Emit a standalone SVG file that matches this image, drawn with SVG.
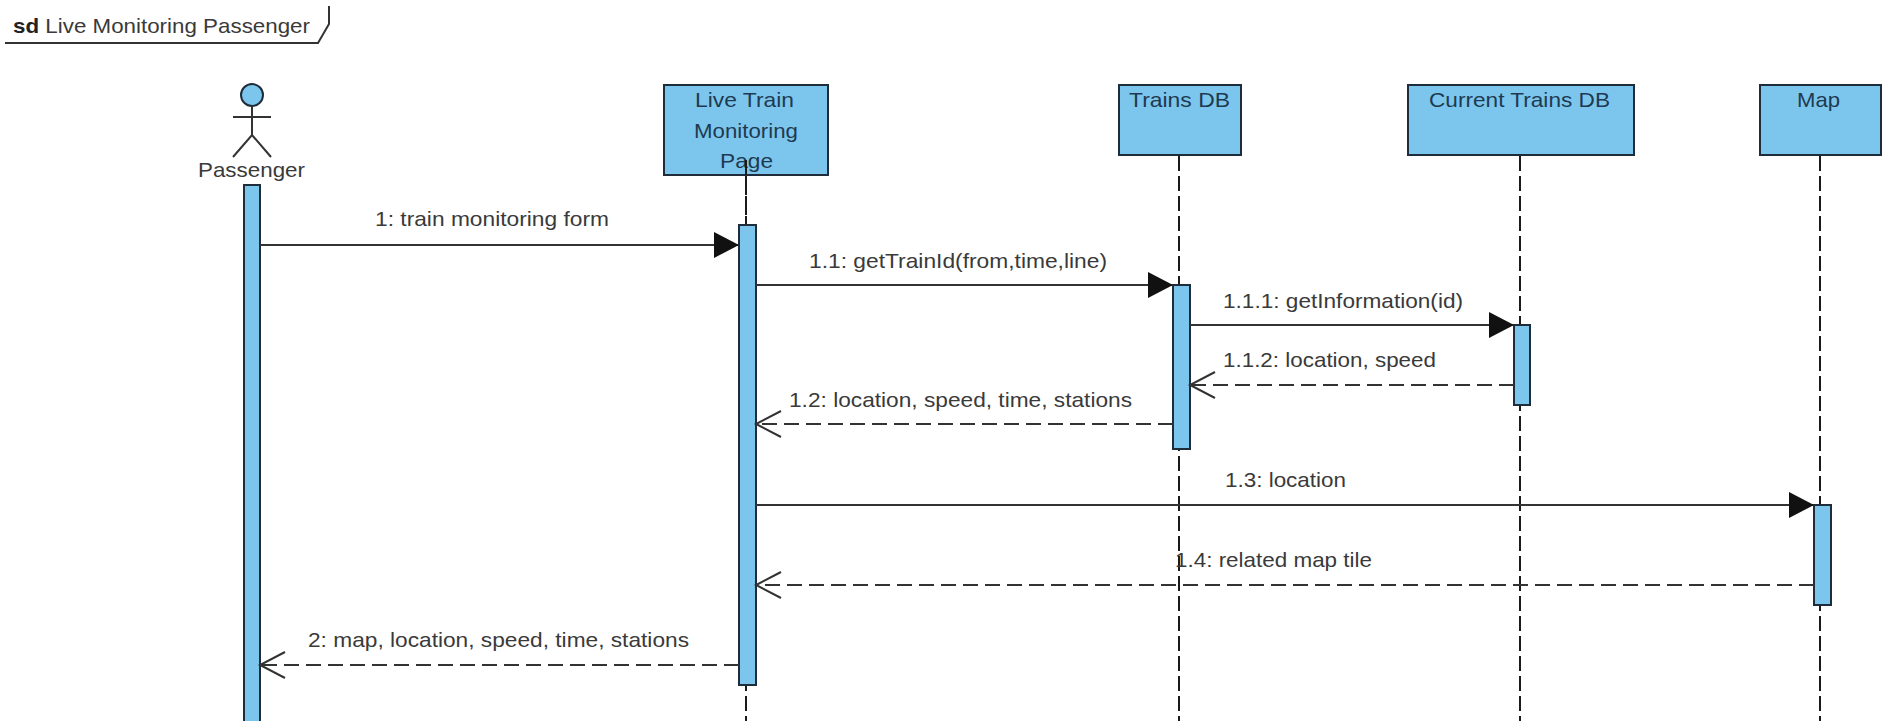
<svg xmlns="http://www.w3.org/2000/svg" width="1883" height="721" viewBox="0 0 1883 721">
<style>
text{font-family:"Liberation Sans",Arial,sans-serif;font-size:21px;fill:#3a3a3a}
.n{fill:#1f3a50}
.box{fill:#7cc6ee;stroke:#1f2d3a;stroke-width:2}
.life{stroke:#1a1a1a;stroke-width:2;stroke-dasharray:15 5;fill:none}
.msg{stroke:#333;stroke-width:2;fill:none}
.ret{stroke:#333;stroke-width:2;stroke-dasharray:15 7;fill:none}
.act{stroke:#333;stroke-width:2;fill:none}
</style>
<defs>
<marker id="filled" markerUnits="userSpaceOnUse" markerWidth="28" markerHeight="28" refX="25" refY="13" orient="auto" overflow="visible"><polygon points="0,0 25,13 0,26" fill="#111"/></marker>
<marker id="open" markerUnits="userSpaceOnUse" markerWidth="28" markerHeight="28" refX="25" refY="13" orient="auto" overflow="visible"><path d="M0,0 L25,13 L0,26" fill="none" stroke="#333" stroke-width="2"/></marker>
</defs>
<rect width="1883" height="721" fill="#fff"/>
<g id="frame">
<path d="M5,43 H318 L329,24 V6" fill="none" stroke="#333" stroke-width="2"/>
<text x="13" y="33" textLength="297" lengthAdjust="spacingAndGlyphs"><tspan font-weight="bold" fill="#222">sd</tspan> Live Monitoring Passenger</text>
</g>
<g id="lifelines">
<line class="life" x1="1179" y1="156" x2="1179" y2="721"/>
<line class="life" x1="1520" y1="156" x2="1520" y2="721"/>
<line class="life" x1="1820" y1="156" x2="1820" y2="721"/>
<line class="life" x1="746" y1="176" x2="746" y2="721"/>
</g>
<g id="passenger">
<circle class="box" cx="252" cy="95" r="11"/>
<path class="act" d="M252,106 V135 M233,117 H271 M233,157 L252,135 L271,157"/>
<text x="198" y="177" textLength="107" lengthAdjust="spacingAndGlyphs">Passenger</text>
<rect class="box" x="244" y="185" width="16" height="540"/>
</g>
<g id="live-train-monitoring-page">
<rect class="box" x="664" y="85" width="164" height="90"/>
<text class="n" x="695" y="107" textLength="99" lengthAdjust="spacingAndGlyphs">Live Train</text>
<text class="n" x="694" y="138" textLength="104" lengthAdjust="spacingAndGlyphs">Monitoring</text>
<text class="n" x="720" y="168" textLength="53" lengthAdjust="spacingAndGlyphs">Page</text>
<line class="life" x1="746" y1="160" x2="746" y2="224"/>
<rect class="box" x="739" y="225" width="17" height="460"/>
</g>
<g id="trains-db">
<rect class="box" x="1119" y="85" width="122" height="70"/>
<text class="n" x="1129" y="107" textLength="101" lengthAdjust="spacingAndGlyphs">Trains DB</text>
<rect class="box" x="1173" y="285" width="17" height="164"/>
</g>
<g id="current-trains-db">
<rect class="box" x="1408" y="85" width="226" height="70"/>
<text class="n" x="1429" y="107" textLength="181" lengthAdjust="spacingAndGlyphs">Current Trains DB</text>
<rect class="box" x="1514" y="325" width="16" height="80"/>
</g>
<g id="map">
<rect class="box" x="1760" y="85" width="121" height="70"/>
<text class="n" x="1797" y="107" textLength="43" lengthAdjust="spacingAndGlyphs">Map</text>
<rect class="box" x="1814" y="505" width="17" height="100"/>
</g>
<g id="connectors">
<line class="msg" x1="260" y1="245" x2="739" y2="245" marker-end="url(#filled)"/>
<line class="msg" x1="756" y1="285" x2="1173" y2="285" marker-end="url(#filled)"/>
<line class="msg" x1="1190" y1="325" x2="1514" y2="325" marker-end="url(#filled)"/>
<line class="ret" x1="1514" y1="385" x2="1190" y2="385" marker-end="url(#open)"/>
<line class="ret" x1="1173" y1="424" x2="756" y2="424" marker-end="url(#open)"/>
<line class="msg" x1="756" y1="505" x2="1814" y2="505" marker-end="url(#filled)"/>
<line class="ret" x1="1814" y1="585" x2="756" y2="585" marker-end="url(#open)"/>
<line class="ret" x1="739" y1="665" x2="260" y2="665" marker-end="url(#open)"/>
</g>
<g id="labels">
<text x="375" y="226" textLength="234" lengthAdjust="spacingAndGlyphs">1: train monitoring form</text>
<text x="809" y="268" textLength="298" lengthAdjust="spacingAndGlyphs">1.1: getTrainId(from,time,line)</text>
<text x="1223" y="308" textLength="240" lengthAdjust="spacingAndGlyphs">1.1.1: getInformation(id)</text>
<text x="1223" y="367" textLength="213" lengthAdjust="spacingAndGlyphs">1.1.2: location, speed</text>
<text x="789" y="407" textLength="343" lengthAdjust="spacingAndGlyphs">1.2: location, speed, time, stations</text>
<text x="1225" y="487" textLength="121" lengthAdjust="spacingAndGlyphs">1.3: location</text>
<text x="1175" y="567" textLength="197" lengthAdjust="spacingAndGlyphs">1.4: related map tile</text>
<text x="308" y="647" textLength="381" lengthAdjust="spacingAndGlyphs">2: map, location, speed, time, stations</text>
</g>
</svg>
